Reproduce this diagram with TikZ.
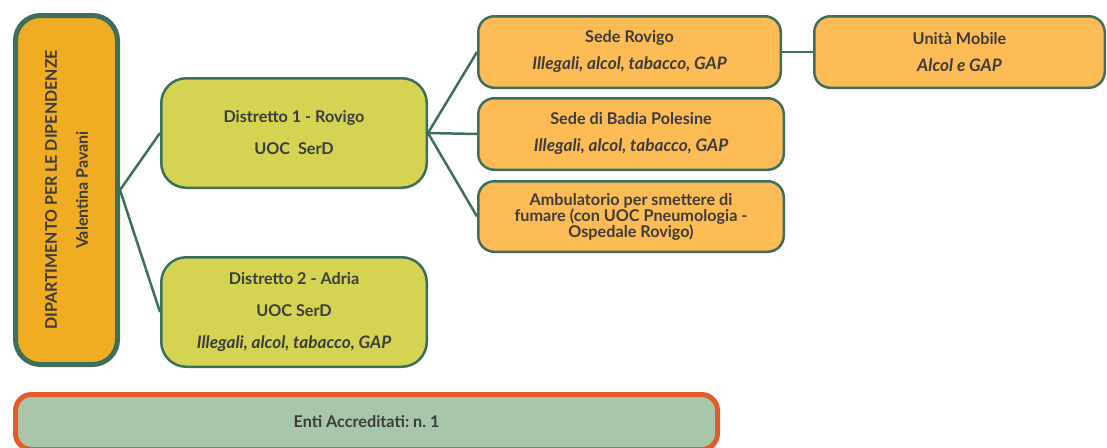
\documentclass[tikz,border=0pt]{standalone}
\usepackage{fontspec}
\setmainfont{Lato}
\usetikzlibrary{positioning}
\frenchspacing

\definecolor{edge}{HTML}{3E6E5C}
\definecolor{deptfill}{HTML}{F0AC22}
\definecolor{distfill}{HTML}{D5D452}
\definecolor{sitefill}{HTML}{FDBB56}
\definecolor{entifill}{HTML}{A8C6A9}
\definecolor{entiedge}{HTML}{E35A2B}
\definecolor{ink}{HTML}{3C3C3C}

\newcommand{\subst}[1]{{\fontsize{17.2}{17}\selectfont\itshape #1}}

\begin{document}
\begin{tikzpicture}[
  x=1pt, y=-1pt,
  font=\bfseries\fontsize{16.2}{18}\selectfont,
  box/.style={draw=edge, line width=2.5pt, align=center, text=ink, inner sep=0pt},
  dept/.style={box, fill=deptfill, line width=5pt, rounded corners=25pt,
    minimum width=102pt, minimum height=349pt},
  district/.style={box, fill=distfill, rounded corners=25pt,
    minimum width=265.5pt, minimum height=109.5pt,
    font=\bfseries\fontsize{16.2}{32}\selectfont},
  site/.style={box, fill=sitefill, rounded corners=16pt,
    minimum width=305.5pt, minimum height=71.5pt,
    font=\bfseries\fontsize{16.2}{27}\selectfont},
  enti/.style={box, draw=entiedge, fill=entifill, line width=5pt, rounded corners=16pt,
    minimum width=702pt, minimum height=55pt},
  link/.style={draw=edge, line width=2.5pt},
]
\useasboundingbox (0,0) rectangle (1107,447);

% Department and the two districts
\node[dept] (dip) at (66.5,190) {};
\node[rotate=90, align=center, text=ink, font=\bfseries\fontsize{16}{31}\selectfont]
  at (dip.center) {DIPARTIMENTO PER LE DIPENDENZE\\Valentina Pavani};

\node[district] (d1) at (294,133) {Distretto 1 - Rovigo\\UOC\ \ SerD};
\node[district] (d2) at (294,312) {Distretto 2 - Adria\\UOC SerD\\\subst{Illegali, alcol, tabacco, GAP}};

% Sites of district 1
\node[site, minimum width=302.5pt] (rovigo) at (629.5,52) {Sede Rovigo\\\subst{Illegali, alcol, tabacco, GAP}};
\node[site] (badia) at (631,134) {Sede di Badia Polesine\\\subst{Illegali, alcol, tabacco, GAP}};
\node[site, minimum height=70.5pt, font=\bfseries\fontsize{16.2}{16}\selectfont] (amb) at (631,216.5)
  {Ambulatorio per smettere di\\fumare (con UOC Pneumologia -\\Ospedale Rovigo)};
\node[site, minimum width=290.5pt] (mobile) at (959.5,52) {Unità Mobile\\\subst{Alcol e GAP}};

% Accredited bodies
\node[enti] (acc) at (366.5,422) {Enti Accreditati: n. 1};

% Connectors
\draw[link] (dip.east) -- (d1.west);
\draw[link] (dip.east) -- (d2.west);
\draw[link] (d1.east) -- (rovigo.west);
\draw[link] (d1.east) -- (badia.west);
\draw[link] (d1.east) -- (amb.west);
\draw[link] (rovigo.east) -- (mobile.west);

\end{tikzpicture}
\end{document}
